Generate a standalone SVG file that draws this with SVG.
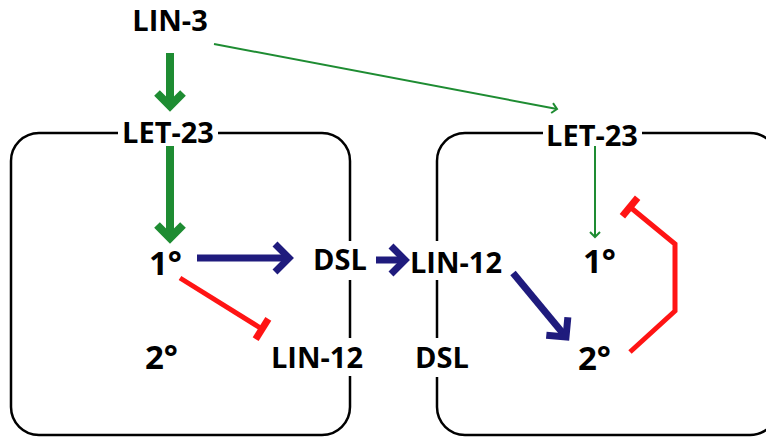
<svg xmlns="http://www.w3.org/2000/svg" width="766" height="438" viewBox="0 0 766 438">
<style>
text{font-family:"Open Sans","Liberation Sans",sans-serif;font-weight:700;fill:#000;font-size:29px}
.lab{text-anchor:middle}
.deg{font-size:33px}
.cell{fill:none;stroke:#000;stroke-width:2.5}
.g8{fill:none;stroke:#1e8c32;stroke-width:8}
.g2{fill:none;stroke:#1e8c32;stroke-width:2}
.nv{fill:none;stroke:#1f1b7d;stroke-width:7}
.rd{fill:none;stroke:#ff1414;stroke-width:5;stroke-linejoin:miter}
</style>
<defs>
<marker id="ag8" markerUnits="userSpaceOnUse" markerWidth="40" markerHeight="40" viewBox="-20 -20 40 40" refX="0" refY="0" orient="auto" overflow="visible">
<path d="M-13,-13 L0,0 L-13,13" fill="none" stroke="#1e8c32" stroke-width="8"/>
</marker>
<marker id="ag2" markerUnits="userSpaceOnUse" markerWidth="20" markerHeight="20" viewBox="-10 -10 20 20" refX="0" refY="0" orient="auto" overflow="visible">
<path d="M-5,-5 L0,0 L-5,5" fill="none" stroke="#1e8c32" stroke-width="2"/>
</marker>
<marker id="anv" markerUnits="userSpaceOnUse" markerWidth="40" markerHeight="40" viewBox="-20 -20 40 40" refX="0" refY="0" orient="auto" overflow="visible">
<path d="M-14,-14 L0,0 L-14,14" fill="none" stroke="#1f1b7d" stroke-width="7"/>
</marker>
<marker id="tr" markerUnits="userSpaceOnUse" markerWidth="40" markerHeight="40" viewBox="-20 -20 40 40" refX="0" refY="0" orient="auto" overflow="visible">
<path d="M0,-12 L0,12" fill="none" stroke="#ff1414" stroke-width="7"/>
</marker>
</defs>
<g id="cell-left">
<path class="cell" d="M118,133 H39 A28,28 0 0 0 11,161 V407 A28,28 0 0 0 39,435 H322 A28,28 0 0 0 350,407 V376"/>
<path class="cell" d="M350,338 V280"/>
<path class="cell" d="M350,241 V161 A28,28 0 0 0 322,133 H218"/>
</g>
<g id="cell-right">
<path class="cell" d="M543,133 H465 A28,28 0 0 0 437,161 V241"/>
<path class="cell" d="M437,280 V338"/>
<path class="cell" d="M437,377 V407 A28,28 0 0 0 465,435 H750 A28,28 0 0 0 778,407 V161 A28,28 0 0 0 750,133 H642"/>
</g>
<g id="connectors">
<path class="g8" d="M170,53 V106" marker-end="url(#ag8)"/>
<path class="g8" d="M170,146 V238" marker-end="url(#ag8)"/>
<path class="g2" d="M214,44 L557,109" marker-end="url(#ag2)"/>
<path class="g2" d="M595,146 V237" marker-end="url(#ag2)"/>
<path class="nv" d="M197,258 H289" marker-end="url(#anv)"/>
<path class="nv" d="M376,260 H405" marker-end="url(#anv)"/>
<path class="nv" d="M513,273 L566,337" marker-end="url(#anv)"/>
<path class="rd" d="M180,278 L262,329" marker-end="url(#tr)"/>
<path class="rd" d="M630,352 L675,311 L675,244 L630,207" marker-end="url(#tr)"/>
</g>
<g id="node-lin3"><text class="lab" x="170" y="31">LIN-3</text></g>
<g id="node-let23-left"><text class="lab" x="168" y="143">LET-23</text></g>
<g id="node-let23-right"><text class="lab" x="592" y="146">LET-23</text></g>
<g id="node-1-left"><text class="deg" x="149" y="275">1°</text></g>
<g id="node-2-left"><text class="deg" x="145" y="369">2°</text></g>
<g id="node-dsl-left"><text class="lab" x="340" y="270">DSL</text></g>
<g id="node-lin12-left"><text class="lab" x="317" y="368">LIN-12</text></g>
<g id="node-lin12-right"><text class="lab" x="456" y="273">LIN-12</text></g>
<g id="node-dsl-right"><text class="lab" x="442" y="368">DSL</text></g>
<g id="node-1-right"><text class="deg" x="583" y="273">1°</text></g>
<g id="node-2-right"><text class="deg" x="578" y="370">2°</text></g>
</svg>
